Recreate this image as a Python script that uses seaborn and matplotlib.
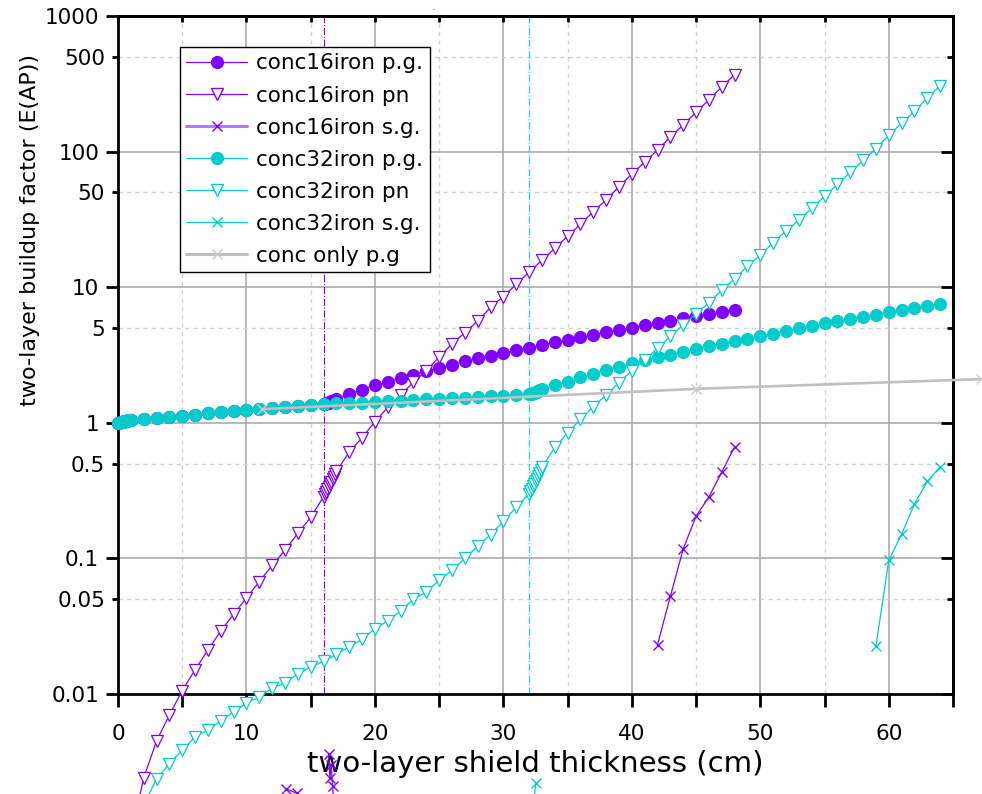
import matplotlib
matplotlib.use("Agg")
import matplotlib.pyplot as plt
import numpy as np
import pandas as pd
import seaborn as sns
from matplotlib.lines import Line2D

# ---------------- data ----------------
dense0 = [0.0, 0.1, 0.2, 0.3, 0.4, 0.5, 0.6, 0.7, 0.8, 0.9, 1.0]
dense16 = [16.1, 16.2, 16.3, 16.4, 16.5, 16.6, 16.7, 16.8, 16.9, 17.0]
dense32 = [32.1, 32.2, 32.3, 32.4, 32.5, 32.6, 32.7, 32.8, 32.9, 33.0]

pg_dense0 = [1.00, 1.005, 1.01, 1.015, 1.02, 1.025, 1.03, 1.035, 1.04, 1.045, 1.05]
pg_2_16 = [1.06, 1.09, 1.11, 1.13, 1.15, 1.18, 1.20, 1.22, 1.24, 1.26, 1.29, 1.31, 1.34, 1.35, 1.37]

# conc16iron p.g.
c16_pg_x = dense0 + list(range(2, 17)) + dense16 + list(range(18, 49))
c16_pg_y = (pg_dense0 + pg_2_16
            + [1.38, 1.39, 1.40, 1.41, 1.42, 1.44, 1.45, 1.46, 1.48, 1.50]
            + [1.63, 1.76, 1.89, 2.00, 2.14, 2.27, 2.40, 2.52, 2.69, 2.84, 2.98, 3.09,
               3.27, 3.45, 3.59, 3.74, 3.93, 4.08, 4.26, 4.46, 4.65, 4.84, 5.04, 5.25,
               5.44, 5.62, 5.89, 6.14, 6.35, 6.56, 6.79])

# conc16iron pn
c16_pn_x = list(range(1, 17)) + dense16 + list(range(18, 49))
c16_pn_y = ([0.0009, 0.0024, 0.0045, 0.0070, 0.0106, 0.0151, 0.0211, 0.0292, 0.0388,
             0.0510, 0.0675, 0.0887, 0.115, 0.153, 0.201, 0.285]
            + [0.297, 0.310, 0.323, 0.337, 0.351, 0.366, 0.382, 0.398, 0.419, 0.440]
            + [0.607, 0.776, 1.02, 1.30, 1.61, 1.99, 2.43, 3.05, 3.83, 4.61, 5.63, 7.10,
               8.53, 10.5, 12.9, 15.8, 19.3, 23.8, 29.1, 36.1, 44.2, 54.9, 68.5, 83.6,
               103, 128, 157, 195, 241, 300, 369])

# conc16iron s.g.
c16_sg_x = [42, 43, 44, 45, 46, 47, 48]
c16_sg_y = [0.0231, 0.0525, 0.1175, 0.205, 0.284, 0.433, 0.665]
c16_sg_low_a_x = [13.07, 13.93]
c16_sg_low_a_y = [0.0020, 0.00185]
c16_sg_low_b_x = [16.4, 16.5, 16.6, 16.7, 16.8]
c16_sg_low_b_y = [0.0036, 0.0024, 0.0030, 0.0021, 0.0015]

# conc32iron p.g.
c32_pg_x = dense0 + list(range(2, 33)) + dense32 + list(range(34, 65))
c32_pg_y = (pg_dense0 + pg_2_16
            + [1.39, 1.40, 1.41, 1.43, 1.44, 1.45, 1.47, 1.49, 1.50, 1.52, 1.53, 1.55,
               1.57, 1.58, 1.60, 1.62]
            + [1.63, 1.64, 1.66, 1.67, 1.69, 1.70, 1.72, 1.74, 1.76, 1.78]
            + [1.89, 2.01, 2.17, 2.30, 2.47, 2.60, 2.75, 2.92, 3.04, 3.18, 3.33, 3.50,
               3.69, 3.83, 4.01, 4.18, 4.38, 4.55, 4.76, 4.96, 5.16, 5.40, 5.59, 5.82,
               6.03, 6.27, 6.52, 6.75, 7.03, 7.27, 7.57])

# conc32iron pn
c32_pn_x = list(range(2, 33)) + dense32 + list(range(34, 65))
c32_pn_y = ([0.0015, 0.00237, 0.00306, 0.00385, 0.00483, 0.00542, 0.00632, 0.00741,
             0.00855, 0.0095, 0.0111, 0.0120, 0.0141, 0.0158, 0.0174, 0.0196, 0.0223,
             0.0253, 0.0303, 0.0346, 0.041, 0.050, 0.0566, 0.069, 0.0817, 0.100, 0.123,
             0.150, 0.188, 0.238, 0.300]
            + [0.313, 0.327, 0.341, 0.356, 0.371, 0.387, 0.404, 0.425, 0.447, 0.470]
            + [0.658, 0.844, 1.06, 1.31, 1.61, 1.98, 2.43, 2.91, 3.54, 4.34, 5.29, 6.35,
               7.67, 9.53, 11.5, 14.3, 17.3, 21.2, 26.0, 31.2, 38.1, 46.7, 57.3, 70.2,
               86.0, 105, 132, 162, 198, 249, 305])

# conc32iron s.g.
c32_sg_x = [59, 60, 61, 62, 63, 64]
c32_sg_y = [0.0225, 0.0966, 0.151, 0.252, 0.370, 0.472]
c32_sg_low_x = [32.3, 32.5]
c32_sg_low_y = [0.0012, 0.0022]

# conc only p.g
conc_x = [11.2, 45.0, 67.2]
conc_y = [1.26, 1.78, 2.10]

labels = ["conc16iron p.g.", "conc16iron pn", "conc16iron s.g.",
          "conc32iron p.g.", "conc32iron pn", "conc32iron s.g.", "conc only p.g"]
iron_thickness = [16, 32]

x_major = [0, 10, 20, 30, 40, 50, 60]
x_minor = [5, 15, 25, 35, 45, 55, 65]
y_major = [0.01, 0.1, 1, 10, 100, 1000]
y_major_lab = ["0.01", "0.1", "1", "10", "100", "1000"]
y_minor = [0.05, 0.5, 5, 50, 500]
y_minor_lab = ["0.05", "0.5", "5", "50", "500"]

# ---------------- style ----------------
PURPLE = "#8000ff"
CYAN = "#00cccc"
GRAY = "#c0c0c0"

sns.set_theme(style="ticks")
plt.rcParams["font.family"] = ["DejaVu Sans"]
plt.rcParams["text.color"] = "black"
plt.rcParams["axes.labelcolor"] = "black"
plt.rcParams["xtick.color"] = "black"
plt.rcParams["ytick.color"] = "black"
plt.rcParams["axes.edgecolor"] = "black"

fig = plt.figure(figsize=(9.82, 7.94), dpi=100)
ax = fig.add_axes([118 / 982, 1 - 694 / 794, (953 - 118) / 982, (694 - 16) / 794])
ax.set_yscale("log")
ax.set_xlim(0, 65)
ax.set_ylim(0.01, 1000)

# grid (drawn manually: solid at majors, dashed at minors)
for xv in x_major[1:]:
    ax.axvline(xv, color="#ababab", lw=1.2, zorder=0)
for xv in x_minor[:-1]:
    ax.axvline(xv, color="#d2d2d2", lw=1.0, ls=(0, (3, 3)), zorder=0)
for yv in y_major[1:-1]:
    ax.axhline(yv, color="#ababab", lw=1.2, zorder=0)
for yv in y_minor:
    ax.axhline(yv, color="#d2d2d2", lw=1.0, ls=(0, (3, 3)), zorder=0)

ax.axvline(iron_thickness[0], color=PURPLE, lw=0.8, ls="-.", zorder=1)
ax.axvline(iron_thickness[1], color="#10d8d8", lw=0.8, ls="-.", zorder=1)


def draw(x, y, color, marker, ms, mfc, lw=0.9, mec=None, mew=1.0, z=3):
    d = pd.DataFrame({"x": x, "y": y})
    sns.lineplot(data=d, x="x", y="y", ax=ax, color=color, marker=marker,
                 markersize=ms, markerfacecolor=mfc,
                 markeredgecolor=mec if mec else color, markeredgewidth=mew,
                 linewidth=lw, estimator=None, sort=False, legend=False,
                 clip_on=False, zorder=z)


draw(c16_pg_x, c16_pg_y, PURPLE, "o", 8.5, PURPLE)
draw(c16_pn_x, c16_pn_y, PURPLE, "v", 8, "white", mew=0.9)
draw(c16_sg_x, c16_sg_y, PURPLE, "x", 7, PURPLE)
draw(c16_sg_low_a_x, c16_sg_low_a_y, PURPLE, "x", 7, PURPLE)
draw(c16_sg_low_b_x, c16_sg_low_b_y, PURPLE, "x", 7, PURPLE)
draw(c32_pg_x, c32_pg_y, CYAN, "o", 8.5, CYAN)
draw(c32_pn_x, c32_pn_y, CYAN, "v", 8, "white", mew=0.9)
draw(c32_sg_x, c32_sg_y, CYAN, "x", 7, CYAN)
draw(c32_sg_low_x, c32_sg_low_y, CYAN, "x", 7, CYAN)
draw(conc_x, conc_y, GRAY, "x", 7, GRAY, lw=1.9, mec="#cccccc", z=4)

# ticks
ax.set_xticks(x_major, [str(v) for v in x_major])
ax.set_xticks(x_minor, minor=True)
ax.set_yticks(y_major, y_major_lab)
ax.set_yticks(y_minor, y_minor_lab, minor=True)
ax.tick_params(axis="both", which="both", direction="out", top=False, right=False,
               bottom=True, left=True, width=2, labelsize=15.5)
ax.tick_params(axis="x", which="both", length=9.4, pad=12)
ax.tick_params(axis="y", which="major", length=8.6, pad=5)
ax.tick_params(axis="y", which="minor", length=4.3, pad=5)

secx = ax.secondary_xaxis("top")
secx.set_xticks(x_major + x_minor)
secx.tick_params(direction="in", length=4.5, width=2, labeltop=False)
secx.spines["top"].set_linewidth(2)

secy = ax.secondary_yaxis("right")
secy.set_yticks(y_major)
secy.set_yticks(y_minor, minor=True)
secy.yaxis.set_major_formatter(plt.NullFormatter())
secy.yaxis.set_minor_formatter(plt.NullFormatter())
secy.tick_params(which="major", direction="in", length=8.6, width=2)
secy.tick_params(which="minor", direction="in", length=4.5, width=2)
secy.spines["right"].set_linewidth(2)

for s in ax.spines.values():
    s.set_linewidth(2)
    s.set_color("black")

ax.set_xlabel("two-layer shield thickness (cm)", fontsize=21, va="center")
ax.xaxis.set_label_coords(0.5, (694 - 764) / 678)
ax.set_ylabel("two-layer buildup factor (E(AP))", fontsize=16, va="center")
ax.yaxis.set_label_coords((30 - 118) / 835, (694 - 230) / 678)

fig.text(433 / 982, 1 - 8 / 794, ".", fontsize=5, ha="center", va="center")

# legend
handles = [
    Line2D([], [], color=PURPLE, lw=0.9, marker="o", ms=8.5, mfc=PURPLE, mec=PURPLE),
    Line2D([], [], color=PURPLE, lw=0.9, marker="v", ms=8, mfc="white", mec=PURPLE),
    Line2D([], [], color="#b07cff", lw=2.2, marker="x", ms=7, mec=PURPLE),
    Line2D([], [], color=CYAN, lw=0.9, marker="o", ms=8.5, mfc=CYAN, mec=CYAN),
    Line2D([], [], color=CYAN, lw=0.9, marker="v", ms=8, mfc="white", mec=CYAN),
    Line2D([], [], color=CYAN, lw=0.9, marker="x", ms=7, mec=CYAN),
    Line2D([], [], color=GRAY, lw=2.2, marker="x", ms=7, mec="#cccccc"),
]
leg = ax.legend(handles, labels, loc="upper left",
                bbox_to_anchor=((180 - 118) / 835, (694 - 47) / 678),
                borderaxespad=0, fontsize=15.5, frameon=True, fancybox=False,
                framealpha=1, edgecolor="black", handlelength=2.8,
                handletextpad=0.45, labelspacing=0.56, borderpad=0.3)
leg.get_frame().set_linewidth(1.0)
leg.set_zorder(10)

fig.savefig("out.png", dpi=100)
